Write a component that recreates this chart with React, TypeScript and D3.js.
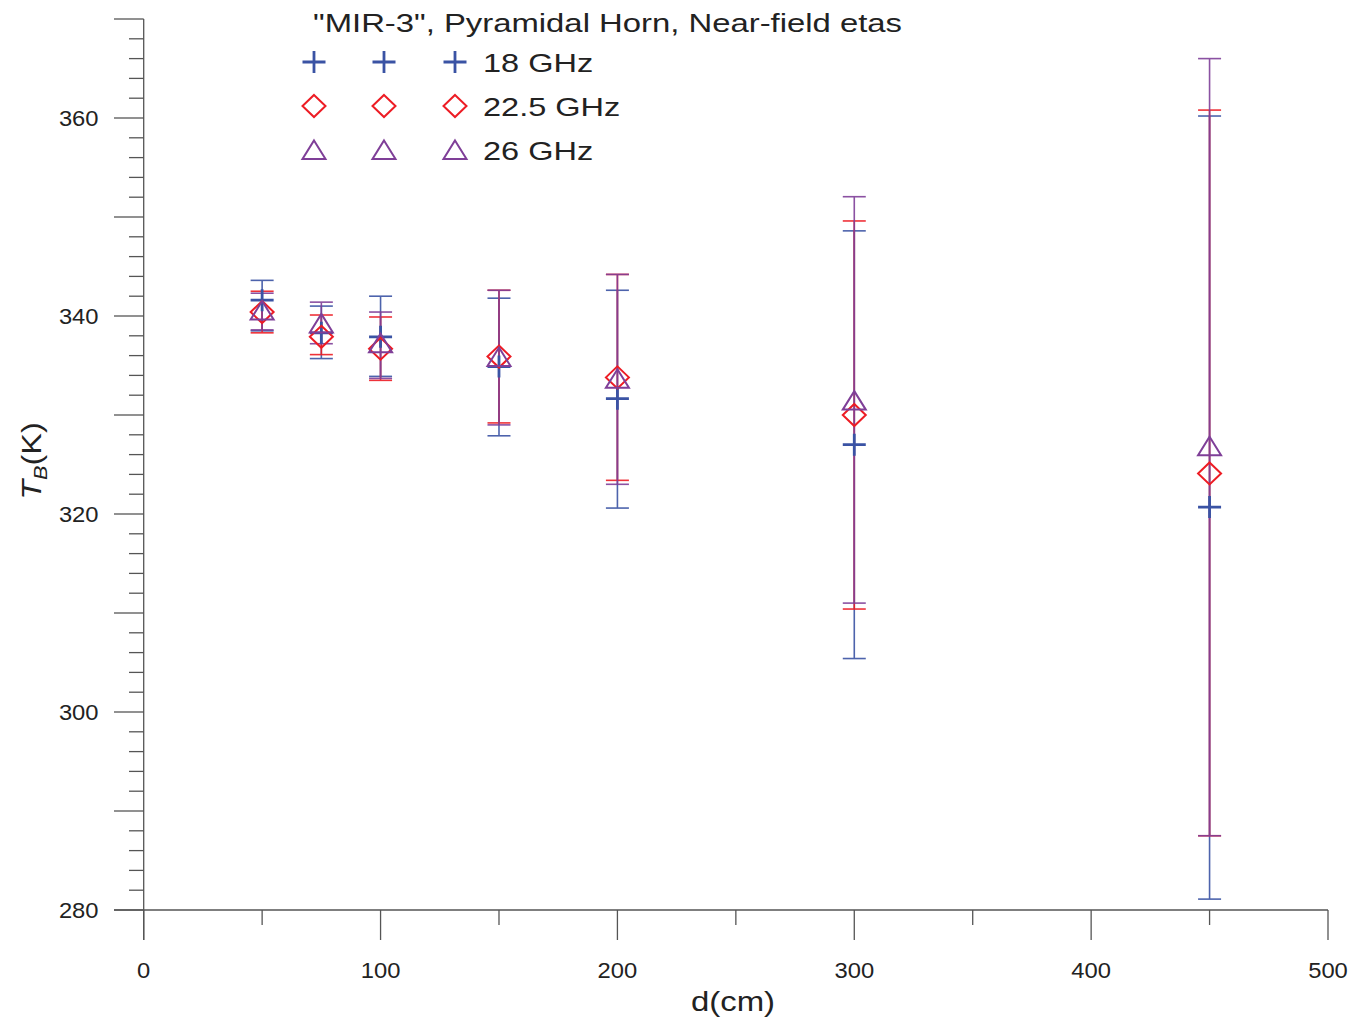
import React from 'react';
import * as d3 from 'd3';

// distance from horn (cm)
const distances = [50, 75, 100, 150, 200, 300, 450];

// 18 GHz
const tb18 = [341.6, 338.3, 337.9, 334.9, 331.65, 327.0, 320.7];
const lo18 = [338.5, 335.7, 333.9, 327.9, 320.6, 305.4, 281.1];
const hi18 = [343.6, 341.0, 342.0, 341.8, 342.6, 348.6, 360.2];

// 22.5 GHz
const tb225 = [340.4, 337.9, 336.7, 335.9, 333.8, 330.0, 324.1];
const lo225 = [338.3, 336.1, 333.5, 329.2, 323.4, 310.4, 287.5];
const hi225 = [342.5, 340.1, 339.9, 342.6, 344.2, 349.6, 360.8];

// 26 GHz
const tb26 = [340.3, 339.0, 337.0, 335.6, 333.4, 331.2, 326.6];
const lo26 = [338.6, 337.2, 333.7, 329.0, 323.0, 311.0, 287.5];
const hi26 = [342.3, 341.4, 340.4, 342.6, 344.2, 352.05, 366.0];

const seriesNames = ['18 GHz', '22.5 GHz', '26 GHz'];
const seriesColors = ['#3a53a4', '#ed1c24', '#7f3f98'];
const seriesShapes = ['cross', 'diamond', 'triangle'];

const xTicks = [0, 50, 100, 150, 200, 250, 300, 350, 400, 450, 500];
const xLabels = [0, 100, 200, 300, 400, 500];
const yLabels = [280, 300, 320, 340, 360];

const W = 1365;
const H = 1025;
const FONT = '"Liberation Sans", Arial, sans-serif';
const AXIS = '#555';
const INK = '#222';

const x = d3.scaleLinear().domain([0, 500]).range([143.7, 1328]);
const y = d3.scaleLinear().domain([280, 370]).range([910, 19]);

const markerPath = (shape: string) => {
  if (shape === 'cross') return 'M-11.5,0H11.5M0,-11V11';
  if (shape === 'diamond') return 'M0,-11L11.5,0L0,11L-11.5,0Z';
  // triangle, centroid at origin
  return 'M0,-12L11.5,6.5L-11.5,6.5Z';
};

const Marker = ({ shape, color, cx, cy }: { shape: string; color: string; cx: number; cy: number }) => (
  <path
    d={markerPath(shape)}
    transform={`translate(${cx},${cy})`}
    fill="none"
    stroke={color}
    strokeWidth={shape === 'cross' ? 2.8 : 2}
  />
);

// the original text is set a bit wide, so stretch it horizontally
const Wide = ({ x, y, sx, size, anchor, children }: any) => (
  <text
    transform={`translate(${x},${y}) scale(${sx},1)`}
    fontSize={size}
    textAnchor={anchor || 'start'}
    fill={INK}
  >
    {children}
  </text>
);

const App = () => {
  const series = [
    { tb: tb18, lo: lo18, hi: hi18 },
    { tb: tb225, lo: lo225, hi: hi225 },
    { tb: tb26, lo: lo26, hi: hi26 },
  ];
  const yMinor = d3.range(280, 371, 2);

  return (
    <svg width={W} height={H} style={{ position: 'absolute', left: 0, top: 0, background: '#fff' }} fontFamily={FONT}>
      {/* axes */}
      <line x1={114} x2={x(500)} y1={y(280)} y2={y(280)} stroke={AXIS} strokeWidth={1.3} />
      <line x1={x(0)} x2={x(0)} y1={y(370)} y2={940} stroke={AXIS} strokeWidth={1.3} />
      {xTicks.map(t => (
        <line key={'xt' + t} x1={x(t)} x2={x(t)} y1={y(280)} y2={y(280) + (t % 100 === 0 ? 30 : 15)} stroke={AXIS} strokeWidth={1.3} />
      ))}
      {xLabels.map(t => (
        <Wide key={'xl' + t} x={x(t)} y={978} sx={1.08} size={22} anchor="middle">{t}</Wide>
      ))}
      {yMinor.map(t => (
        <line key={'yt' + t} x1={t % 10 === 0 ? 114 : 129} x2={x(0)} y1={y(t)} y2={y(t)} stroke={AXIS} strokeWidth={1.3} />
      ))}
      {yLabels.map(t => (
        <Wide key={'yl' + t} x={98.5} y={y(t) + 8} sx={1.08} size={22} anchor="end">{t}</Wide>
      ))}
      <Wide x={733} y={1011} sx={1.22} size={27} anchor="middle">d(cm)</Wide>
      <text transform="translate(41,461) rotate(-90) scale(1.2,1)" textAnchor="middle" fontSize={27} fill={INK}>
        <tspan fontStyle="italic">T</tspan>
        <tspan fontStyle="italic" fontSize={18} dy={6}>B</tspan>
        <tspan dy={-6}>(K)</tspan>
      </text>

      {/* error bars */}
      {series.map((s, i) => (
        <g key={'eb' + i} stroke={seriesColors[i]} strokeWidth={1.6} opacity={0.9}>
          {distances.map((d, j) => (
            <g key={j}>
              <line x1={x(d)} x2={x(d)} y1={y(s.lo[j])} y2={y(s.hi[j])} />
              <line x1={x(d) - 11.5} x2={x(d) + 11.5} y1={y(s.lo[j])} y2={y(s.lo[j])} />
              <line x1={x(d) - 11.5} x2={x(d) + 11.5} y1={y(s.hi[j])} y2={y(s.hi[j])} />
            </g>
          ))}
        </g>
      ))}

      {/* markers */}
      {series.map((s, i) => (
        <g key={'mk' + i}>
          {distances.map((d, j) => (
            <Marker key={j} shape={seriesShapes[i]} color={seriesColors[i]} cx={x(d)} cy={y(s.tb[j])} />
          ))}
        </g>
      ))}

      {/* title + legend */}
      <Wide x={313} y={32} sx={1.24} size={26.5}>"MIR-3", Pyramidal Horn, Near-field etas</Wide>
      {seriesNames.map((n, i) => (
        <g key={'lg' + i}>
          {[314, 384, 455].map(lx => (
            <Marker key={lx} shape={seriesShapes[i]} color={seriesColors[i]} cx={lx} cy={62 + i * 44 + (seriesShapes[i] === 'triangle' ? 2.5 : 0)} />
          ))}
          <Wide x={483} y={72 + i * 44} sx={1.25} size={26}>{n}</Wide>
        </g>
      ))}
    </svg>
  );
};

export default App;
